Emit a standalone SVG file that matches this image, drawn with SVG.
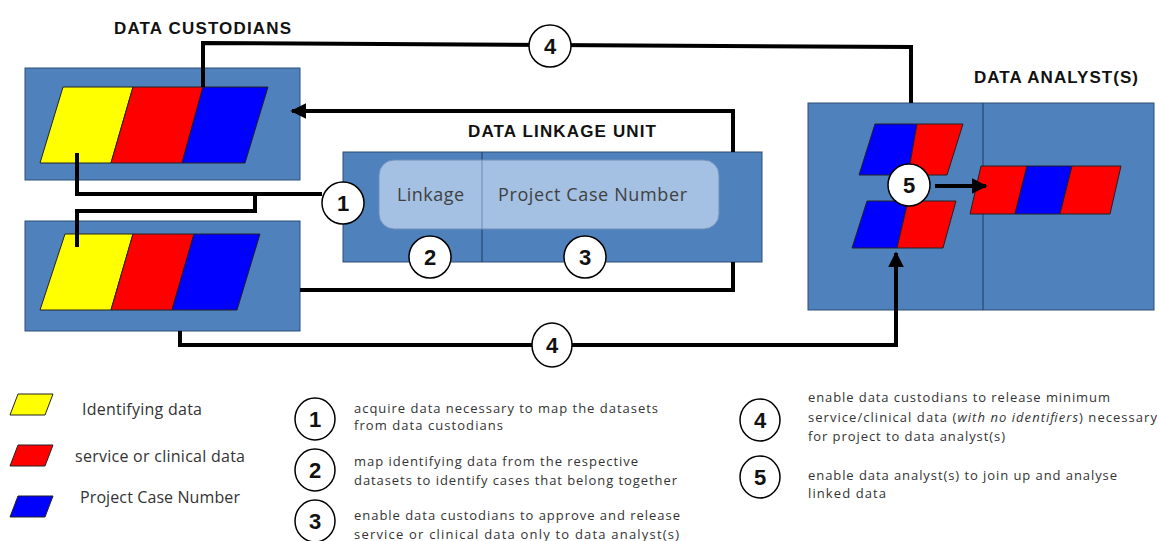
<svg xmlns="http://www.w3.org/2000/svg" width="1158" height="541" viewBox="0 0 1158 541">
<style>
.box{fill:#4f81bd;stroke:#2f4f74;stroke-width:1}
.y{fill:#ffff00;stroke:#222;stroke-width:1}
.r{fill:#ff0000;stroke:#222;stroke-width:1}
.b{fill:#0000ff;stroke:#222;stroke-width:1}
.conn{fill:none;stroke:#000;stroke-width:4;stroke-linejoin:miter}
.circ{fill:#fff;stroke:#000;stroke-width:1.5}
.num{font-family:"Liberation Sans",Arial,sans-serif;font-weight:bold;font-size:22px;text-anchor:middle;fill:#111}
.hdr{font-family:"Liberation Sans",Arial,sans-serif;font-weight:bold;font-size:17px;fill:#111}
.lbl{font-family:"Open Sans","Liberation Sans",sans-serif;font-size:18px;fill:#404040}
.leg{font-family:"Open Sans","Liberation Sans",sans-serif;font-size:13px;fill:#333}
.key{font-family:"Open Sans","Liberation Sans",sans-serif;font-size:16px;fill:#333}
.div{stroke:#1f3a5f;stroke-width:1}
</style>
<defs>
<marker id="ah" viewBox="0 0 10 10" refX="9" refY="5" markerWidth="4" markerHeight="4" orient="auto" markerUnits="strokeWidth">
<path d="M0,0 L10,5 L0,10 z" fill="#000"/>
</marker>
</defs>

<g id="custodian-top">
<rect class="box" x="25" y="68" width="275" height="112"/>
<polygon class="y" points="63,87 133,87 111,163 40,163"/>
<polygon class="r" points="133,87 203,87 182,163 111,163"/>
<polygon class="b" points="203,87 268,87 245,163 182,163"/>
</g>
<text class="hdr" x="114" y="34" textLength="177">DATA CUSTODIANS</text>

<g id="custodian-bottom">
<rect class="box" x="25" y="221" width="275" height="110"/>
<polygon class="y" points="65,234 133,234 111,310 40,310"/>
<polygon class="r" points="133,234 194,234 172,310 111,310"/>
<polygon class="b" points="194,234 260,234 237,310 172,310"/>
</g>

<g id="linkage-unit">
<rect class="box" x="343" y="152" width="419" height="110"/>
<line class="div" x1="482" y1="152" x2="482" y2="262"/>
<rect x="379" y="160" width="340" height="69" rx="15" fill="#abc6e6" fill-opacity="0.92" stroke="#6f8fb8" stroke-width="1"/>
<line x1="482" y1="160" x2="482" y2="229" stroke="#6f8fb8" stroke-width="1"/>
<text class="lbl" x="397" y="201" textLength="67">Linkage</text>
<text class="lbl" x="498" y="201" textLength="189">Project Case Number</text>
</g>
<text class="hdr" x="468" y="137" textLength="188">DATA LINKAGE UNIT</text>

<g id="analyst">
<rect class="box" x="808" y="103" width="346" height="207"/>
<line class="div" x1="983" y1="103" x2="983" y2="310"/>
<polygon class="b" points="875,124 917,124 908,175 859,175"/>
<polygon class="r" points="917,124 963,124 947,175 908,175"/>
<polygon class="b" points="867,201 908,201 897,248 852,248"/>
<polygon class="r" points="908,201 956,201 943,248 897,248"/>
<polygon class="r" points="981,166 1027,166 1015,214 970,214"/>
<polygon class="b" points="1027,166 1072,166 1060,214 1015,214"/>
<polygon class="r" points="1072,166 1121,166 1110,214 1060,214"/>
</g>
<text class="hdr" x="974" y="83" textLength="164">DATA ANALYST(S)</text>

<g id="connectors">
<path class="conn" d="M203,87 V43 L911,47 V103"/>
<path class="conn" d="M733,152 V111 H292" marker-end="url(#ah)"/>
<path class="conn" d="M77,153 V194 H322"/>
<path class="conn" d="M77,247 V211 H255 V194"/>
<path class="conn" d="M733,262 V290 H300"/>
<path class="conn" d="M180,331 V345 H896 V253" marker-end="url(#ah)"/>
<path class="conn" d="M935,186 H986" stroke-width="3" marker-end="url(#ah)"/>
</g>

<g id="step1"><circle class="circ" cx="343" cy="203" r="21"/><text class="num" x="343" y="211">1</text></g>
<g id="step2"><circle class="circ" cx="430" cy="257" r="21"/><text class="num" x="430" y="265">2</text></g>
<g id="step3"><circle class="circ" cx="585" cy="257" r="21"/><text class="num" x="585" y="265">3</text></g>
<g id="step4-top"><circle class="circ" cx="550" cy="46" r="21"/><text class="num" x="550" y="54">4</text></g>
<g id="step4-bottom"><ellipse class="circ" cx="552" cy="345" rx="20" ry="22"/><text class="num" x="552" y="353">4</text></g>
<g id="step5"><circle class="circ" cx="909" cy="185" r="21"/><text class="num" x="909" y="193">5</text></g>

<g id="legend-colours">
<polygon class="y" points="18,394 53,394 45,415 10,415"/>
<polygon class="r" points="18,445 53,445 45,466 10,466"/>
<polygon class="b" points="18,496 53,496 45,517 10,517"/>
<text class="key" x="82" y="415" textLength="120">Identifying data</text>
<text class="key" x="75" y="462" textLength="170">service or clinical data</text>
<text class="key" x="80" y="503" textLength="160">Project Case Number</text>
</g>

<g id="legend-steps">
<ellipse class="circ" cx="315" cy="419" rx="20" ry="21"/><text class="num" x="315" y="427">1</text>
<ellipse class="circ" cx="315" cy="470" rx="20" ry="21"/><text class="num" x="315" y="478">2</text>
<ellipse class="circ" cx="315" cy="521" rx="20" ry="21"/><text class="num" x="315" y="529">3</text>
<ellipse class="circ" cx="760" cy="420" rx="20" ry="21"/><text class="num" x="760" y="428">4</text>
<ellipse class="circ" cx="760" cy="477" rx="20" ry="21"/><text class="num" x="760" y="485">5</text>
<text class="leg" x="354" y="413" textLength="304">acquire data necessary to map the datasets</text>
<text class="leg" x="354" y="430" textLength="149">from data custodians</text>
<text class="leg" x="354" y="466" textLength="284">map identifying data from the respective</text>
<text class="leg" x="354" y="485" textLength="323">datasets to identify cases that belong together</text>
<text class="leg" x="354" y="520" textLength="326">enable data custodians to approve and release</text>
<text class="leg" x="354" y="539" textLength="325">service or clinical data only to data analyst(s)</text>
<text class="leg" x="808" y="402" textLength="302">enable data custodians to release minimum</text>
<text class="leg" x="808" y="422" textLength="349">service/clinical data (<tspan font-style="italic">with no identifiers</tspan>) necessary</text>
<text class="leg" x="808" y="441" textLength="197">for project to data analyst(s)</text>
<text class="leg" x="808" y="480" textLength="309">enable data analyst(s) to join up and analyse</text>
<text class="leg" x="808" y="498" textLength="78">linked data</text>
</g>
</svg>
